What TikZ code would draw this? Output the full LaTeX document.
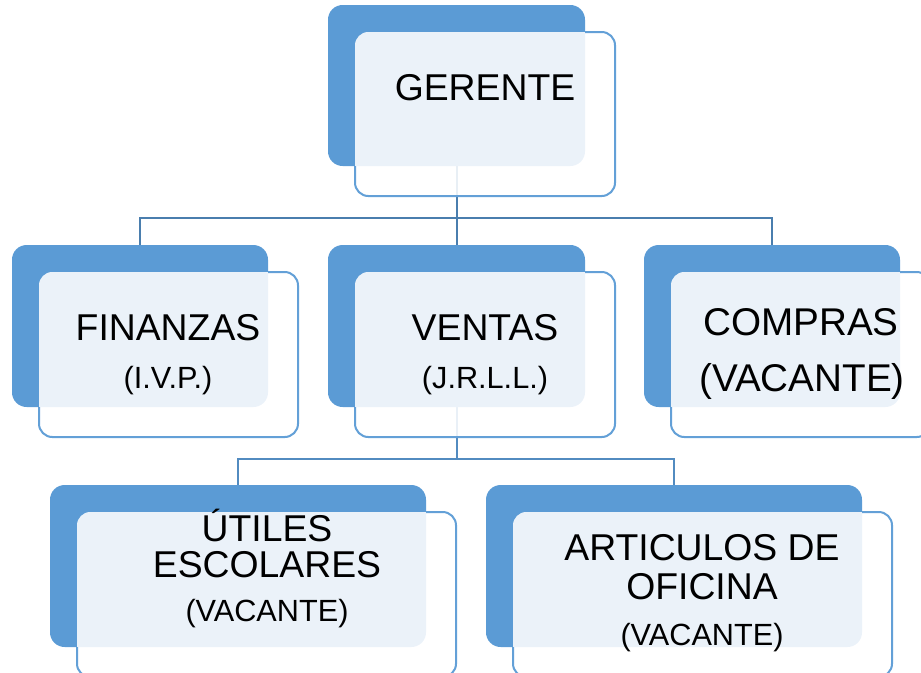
\documentclass[tikz,border=0pt]{standalone}
\usepackage{fontspec}
\setmainfont{Liberation Sans}
\usetikzlibrary{positioning,calc}

\definecolor{azul}{HTML}{5B9BD5}
\definecolor{azuloscuro}{HTML}{4A7EAE}

% one box of the chart: back block, light front card, border outside the block
\newcommand{\unidad}[5]{%
  \node[fondo, minimum width=#4*0.75pt, minimum height=#5*0.75pt] (#1) at (#2,#3) {};
  \node[frente, minimum width={(#4+3)*0.75pt}, minimum height={(#5+3)*0.75pt}] (#1f) at ($(#1.north west)+(27,27)$) {};
  \begin{scope}[even odd rule]
    \clip (-10,-10) rectangle (940,700) [rounded corners=11pt] (#1.north west) rectangle (#1.south east);
    \draw[borde, rounded corners=10pt] (#1f.north west) rectangle (#1f.south east);
  \end{scope}
}

\begin{document}
\begin{tikzpicture}[x=0.75pt, y=-0.75pt,
  fondo/.style={anchor=north west, fill=azul, rounded corners=11pt, inner sep=0pt, outer sep=0pt},
  frente/.style={anchor=north west, fill=white, fill opacity=0.88, rounded corners=10pt, inner sep=0pt, outer sep=0pt},
  borde/.style={draw=azul!95!white, line width=1.5pt},
  conector/.style={draw=azuloscuro, line width=1.5pt},
  conector2/.style={draw=azul!90!black, line width=1.5pt},
  titulo/.style={font=\fontsize{28}{31}\selectfont, inner sep=0pt},
  sub/.style={font=\fontsize{23}{27}\selectfont, inner sep=0pt}]
\useasboundingbox (0,0) rectangle (921,672);
\clip (0,0) rectangle (921,672);

% position of the blocks
\coordinate (pgerente) at (328,5);
\coordinate (pfinanzas) at (12,245);
\coordinate (pventas) at (328,245);
\coordinate (pcompras) at (644,245);
\coordinate (putiles) at (50,485);
\coordinate (particulos) at (486,485);

% connectors first, the cards lie over them
\path (pfinanzas) ++(128,0) coordinate (cfinanzas);
\path (pcompras) ++(128,0) coordinate (ccompras);
\path (pgerente) ++(128.5,161) coordinate (cgerente);
\path (pventas) ++(128.5,0) coordinate (cventas);
\path (pventas) ++(128.5,162) coordinate (sventas);
\path (putiles) ++(188,0) coordinate (cutiles);
\path (particulos) ++(188,0) coordinate (carticulos);

\draw[conector] (cfinanzas) -- ++(0,-27) coordinate (nudo1) -| (ccompras);
\draw[conector] (cgerente) -- (cventas);
\draw[conector2] (cutiles) -- ++(0,-26) coordinate (nudo2) -| (carticulos);
\draw[conector2] (sventas) -- (sventas |- nudo2);

\unidad{gerente}{328}{5}{257}{161}
\unidad{finanzas}{12}{245}{256}{162}
\unidad{ventas}{328}{245}{257}{162}
\unidad{compras}{644}{245}{256}{162}
\unidad{utiles}{50}{485}{376}{162}
\unidad{articulos}{486}{485}{376}{162}

% texts
\node[titulo] (tgerente) at (485,88) {GERENTE};
\node[titulo] (tfinanzas) at (168,328) {FINANZAS};
\node[sub] (sfinanzas) at (168,381) {(I.V.P.)};
\node[titulo] (tventas) at (485,328) {VENTAS};
\node[sub] (sventas2) at (485,381) {(J.R.L.L.)};
\node[font=\fontsize{29}{32}\selectfont, inner sep=0pt] (tcompras) at (801,322) {COMPRAS};
\node[font=\fontsize{29}{32}\selectfont, inner sep=0pt] (scompras) at (802,381) {(VACANTE)};
\node[titulo] (tutiles) at (267,525) {ÚTILES};
\node[titulo] (tutiles2) at (267,565) {ESCOLARES};
\node[sub] (sutiles) at (267,614) {(VACANTE)};
\node[titulo] (tarticulos) at (702,548) {ARTICULOS DE};
\node[titulo] (tarticulos2) at (702,587) {OFICINA};
\node[sub] (sarticulos) at (702,638) {(VACANTE)};
\end{tikzpicture}
\end{document}
